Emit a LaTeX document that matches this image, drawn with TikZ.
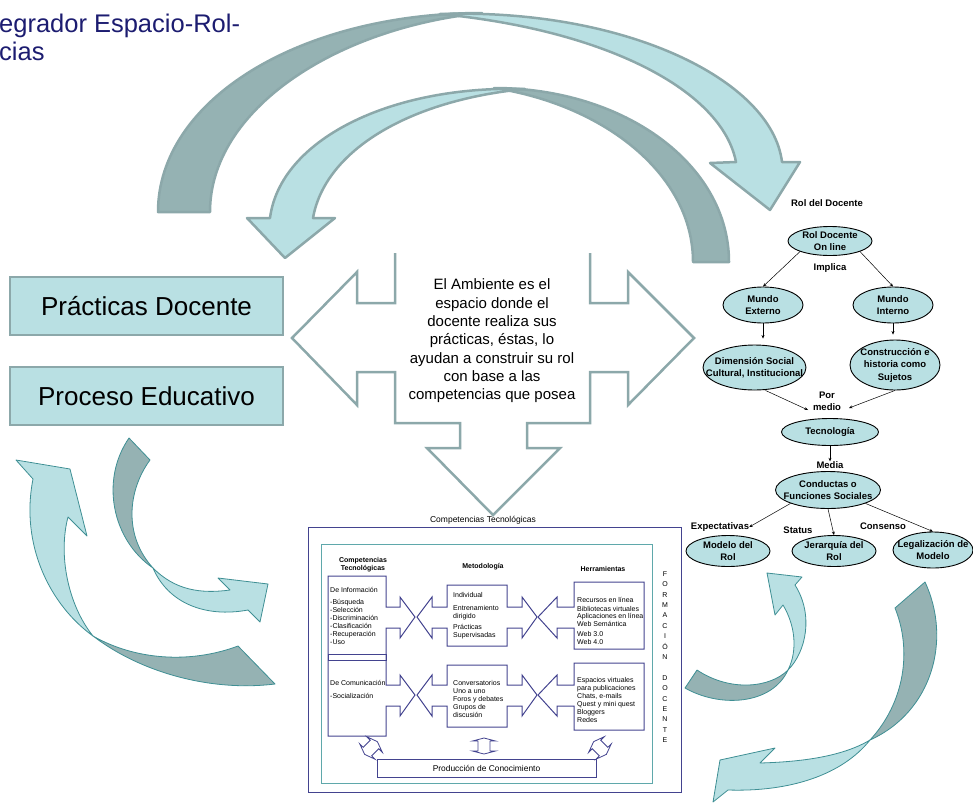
\documentclass[tikz,border=0pt]{standalone}
\usepackage{fontspec}
\setmainfont{Liberation Sans}
\usetikzlibrary{shapes.geometric,arrows.meta}
\definecolor{lt}{HTML}{B9E0E3}
\definecolor{dk}{HTML}{95B2B3}
\definecolor{edgegray}{HTML}{8CA8AA}
\definecolor{tealline}{HTML}{3F8F94}
\definecolor{navy}{HTML}{43438F}
\definecolor{titleblue}{HTML}{1C1C70}
\definecolor{innerteal}{HTML}{5FA8AB}
\begin{document}
\begin{tikzpicture}[x=1pt,y=-1pt,
  arcpart/.style={draw=edgegray,line width=2.5pt,line join=round},
  curvpart/.style={draw=tealline,line width=0.8pt,line join=round},
  bigbox/.style={draw=edgegray,line width=2.5pt,fill=lt,minimum width=273pt,minimum height=58pt,inner sep=0pt,font=\fontsize{26}{30}\selectfont},
  frame/.style={draw=navy,line width=1pt,line join=miter},
  smalltxt/.style={anchor=north west,inner sep=0pt,align=left,font=\fontsize{7}{8}\selectfont},
  colhead/.style={inner sep=0pt,align=center,font=\bfseries\fontsize{7}{8}\selectfont},
  ell/.style={ellipse,draw=black,line width=0.9pt,fill=lt,inner sep=0pt},
  elltxt/.style={inner sep=0pt,align=center,font=\bfseries\fontsize{9.5}{12.5}\selectfont},
  maplab/.style={inner sep=0pt,align=center,font=\bfseries\fontsize{9.5}{12.5}\selectfont},
  maparrow/.style={draw=black,line width=0.5pt,-{Stealth[length=3.5pt,width=3pt]}},
  dblarrow/.style={draw=navy,line width=0.8pt,line join=miter},
  titletxt/.style={anchor=base west,inner sep=0pt,text=titleblue,font=\fontsize{25.5}{30}\selectfont}
]
\useasboundingbox (0,0) rectangle (973,803);

% title
\node[titletxt] (t1) at (-1,32) {egrador\hspace{7pt}Espacio-Rol-};
\node[titletxt] (t2) at (-1,60) {cias};

% big outer arc arrow
\filldraw[arcpart,fill=dk] (158,212) .. controls (158,100) and (300,13) .. (482,13)
  .. controls (335,28) and (210,110) .. (210,212) -- cycle;
\filldraw[arcpart,fill=lt] (440,14) .. controls (625,8) and (772,80) .. (782,162)
  -- (800,162) -- (770,210) -- (710,163) -- (736,162)
  .. controls (722,90) and (605,30) .. (440,14) -- cycle;

% inner arc arrow
\filldraw[arcpart,fill=dk] (729,262) .. controls (729,165) and (625,88) .. (494,88)
  .. controls (605,105) and (693,175) .. (693,262) -- cycle;
\filldraw[arcpart,fill=lt] (525,89) .. controls (390,85) and (280,140) .. (270,218)
  -- (247,218) -- (285,258) -- (335,218) -- (313,218)
  .. controls (325,150) and (410,100) .. (525,89) -- cycle;

% left boxes
\node[bigbox] (prac) at (146.5,306) {Prácticas Docente};
\node[bigbox] (proc) at (146.5,396) {Proceso Educativo};

% central three-way arrow
\draw[edgegray,line width=2.5pt,line join=miter]
  (395,253) -- (395,303) -- (357,303) -- (357,272) -- (292,338) -- (357,405) -- (357,372)
  -- (395,372) -- (395,423) -- (460,423) -- (460,448) -- (427,448) -- (493,515)
  -- (560,448) -- (527,448) -- (527,423) -- (590,423) -- (590,372) -- (628,372)
  -- (628,405) -- (694,338) -- (628,272) -- (628,303) -- (590,303) -- (590,253);
\node[inner sep=0pt,align=center,font=\fontsize{15}{18.3}\selectfont] (amb) at (492,341)
  {El Ambiente es el\\espacio donde el\\docente realiza sus\\prácticas, éstas, lo\\ayudan a construir su rol\\con base a las\\competencias que posea};

% bottom-left curved arrows
\filldraw[curvpart,fill=dk] (93,636) .. controls (140,672) and (210,692) .. (275,684)
  -- (238,646) .. controls (190,664) and (135,660) .. (93,636) -- cycle;
\filldraw[curvpart,fill=lt] (33,479) -- (16,460) -- (70,469) -- (87,536) -- (68,517)
  .. controls (58,555) and (68,605) .. (93,636) .. controls (50,605) and (20,545) .. (33,479) -- cycle;
\filldraw[curvpart,fill=dk] (129,438) -- (150,460) .. controls (128,490) and (123,535) .. (153,568)
  .. controls (112,540) and (100,480) .. (129,438) -- cycle;
\filldraw[curvpart,fill=lt] (153,568) .. controls (175,590) and (200,594) .. (230,590)
  -- (218,578) -- (268,584) -- (260,622) -- (248,610)
  .. controls (205,618) and (168,603) .. (153,568) -- cycle;

% bottom-right curved arrows
\filldraw[curvpart,fill=dk] (788,670) .. controls (770,688) and (730,692) .. (697,670)
  -- (685,688) .. controls (720,708) and (772,705) .. (788,670) -- cycle;
\filldraw[curvpart,fill=lt] (795,585) -- (802,577) -- (767,573) -- (775,615) -- (783,605)
  .. controls (795,625) and (798,650) .. (788,670) .. controls (806,652) and (814,615) .. (795,585) -- cycle;
\filldraw[curvpart,fill=dk] (895,608) -- (925,582) .. controls (952,640) and (932,712) .. (870,740)
  .. controls (905,702) and (912,650) .. (895,608) -- cycle;
\filldraw[curvpart,fill=lt] (870,740) .. controls (840,758) and (795,762) .. (760,763)
  -- (775,748) -- (720,760) -- (713,802) -- (728,790)
  .. controls (790,792) and (842,775) .. (870,740) -- cycle;

% bottom centre figure
\node[inner sep=0pt,font=\fontsize{8.5}{10}\selectfont] (cap) at (483,520) {Competencias Tecnológicas};
\draw[frame] (308,527) rectangle (681,792);
\draw[innerteal,line width=0.9pt] (321,544) rectangle (652,783);
\node[colhead] (h1) at (363,565) {Competencias\\Tecnológicas};
\node[colhead] (h2) at (483,567) {Metodología};
\node[colhead] (h3) at (603,569) {Herramientas};

\draw[frame] (328,576) -- (386,576) -- (386,607) -- (400,607) -- (400,597) -- (415,617)
  -- (400,638) -- (400,628) -- (386,628) -- (386,685) -- (400,685) -- (400,675)
  -- (415,695) -- (400,716) -- (400,706) -- (386,706) -- (386,736) -- (328,736) -- cycle;
\draw[frame] (328,654) rectangle (386,660);

\draw[frame] (447,585) -- (507,585) -- (507,607) -- (522,607) -- (522,597) -- (537,617)
  -- (522,638) -- (522,628) -- (507,628) -- (507,646) -- (447,646) -- (447,628)
  -- (432,628) -- (432,638) -- (417,617) -- (432,597) -- (432,607) -- (447,607) -- cycle;
\draw[frame] (447,665) -- (507,665) -- (507,685) -- (522,685) -- (522,675) -- (537,695)
  -- (522,716) -- (522,706) -- (507,706) -- (507,727) -- (447,727) -- (447,706)
  -- (432,706) -- (432,716) -- (417,695) -- (432,675) -- (432,685) -- (447,685) -- cycle;

\draw[frame] (574,582) -- (644,582) -- (644,649) -- (574,649) -- (574,628) -- (557,628)
  -- (557,638) -- (538,617) -- (557,597) -- (557,607) -- (574,607) -- cycle;
\draw[frame] (574,663) -- (644,663) -- (644,730) -- (574,730) -- (574,706) -- (557,706)
  -- (557,716) -- (538,695) -- (557,675) -- (557,685) -- (574,685) -- cycle;

\node[smalltxt] (tinfo) at (330,587) {De Información\\[4pt]-Búsqueda\\-Selección\\-Discriminación\\-Clasificación\\-Recuperación\\-Uso};
\node[smalltxt] (tcom) at (330,680) {De Comunicación\\[5pt]-Socialización};
\node[smalltxt] (tmet1) at (453,592) {Individual\\[5pt]Entrenamiento\\dirigido\\[3pt]Prácticas\\Supervisadas};
\node[smalltxt] (tmet2) at (453,680) {Conversatorios\\Uno a uno\\Foros y debates\\Grupos de\\discusión};
\node[smalltxt] (ther1) at (577,597) {Recursos en línea\\[1pt]Bibliotecas virtuales\\[-1pt]Aplicaciones en línea\\Web Semántica\\[2pt]Web 3.0\\Web 4.0};
\node[smalltxt] (ther2) at (577,677) {Espacios virtuales\\para publicaciones\\Chats, e-mails\\Quest y mini quest\\Bloggers\\Redes};

\node[draw=navy,line width=1pt,minimum width=219pt,minimum height=18pt,inner sep=0pt,font=\fontsize{8.4}{10}\selectfont] (prod) at (486.5,768) {Producción de Conocimiento};

\draw[dblarrow,shift={(371,748)},rotate=-45] (0,-9) -- (11,-5) -- (6,-5) -- (6,5) -- (11,5) -- (0,9) -- (-11,5) -- (-6,5) -- (-6,-5) -- (-11,-5) -- cycle;
\draw[dblarrow,shift={(484,746)}] (0,-8) -- (11.5,-5) -- (6,-5) -- (6,5) -- (11.5,5) -- (0,8) -- (-11.5,5) -- (-6,5) -- (-6,-5) -- (-11.5,-5) -- cycle;
\draw[dblarrow,shift={(600,748)},rotate=45] (0,-9) -- (11,-5) -- (6,-5) -- (6,5) -- (11,5) -- (0,9) -- (-11,5) -- (-6,5) -- (-6,-5) -- (-11,-5) -- cycle;

\node[inner sep=0pt,align=center,font=\fontsize{7}{10.4}\selectfont] (form) at (665,657)
  {F\\O\\R\\M\\A\\C\\I\\Ó\\N\\[10.4pt]D\\O\\C\\E\\N\\T\\E};

% concept map
\node[maplab] (roltitle) at (827,203) {Rol del Docente};
\node[ell,minimum width=84pt,minimum height=29pt,label={[elltxt]center:{Rol Docente\\On line}}] (rol) at (830,241) {};
\node[maplab] (implica) at (830,268) {Implica};
\node[ell,minimum width=80pt,minimum height=36pt,label={[elltxt]center:{Mundo\\Externo}}] (mext) at (763,305) {};
\node[ell,minimum width=80pt,minimum height=36pt,label={[elltxt]center:{Mundo\\Interno}}] (mint) at (893,305) {};
\node[ell,minimum width=103pt,minimum height=45pt,label={[elltxt]center:{Dimensión Social\\Cultural, Institucional}}] (dim) at (754.5,367.5) {};
\node[ell,minimum width=90pt,minimum height=50pt,label={[elltxt]center:{Construcción e\\historia como\\Sujetos}}] (cons) at (895,365) {};
\node[maplab] (pm) at (827,401.5) {Por\\medio};
\node[ell,minimum width=97pt,minimum height=27pt,label={[elltxt]center:{Tecnología}}] (tec) at (830,432) {};
\node[maplab] (media) at (830,465) {Media};
\node[ell,minimum width=105pt,minimum height=37pt,label={[elltxt]center:{Conductas o\\Funciones Sociales}}] (cond) at (828,490) {};
\node[maplab] (expec) at (720,527) {Expectativas};
\node[maplab] (status) at (798,530) {Status};
\node[maplab] (consenso) at (883,526) {Consenso};
\node[ell,minimum width=84pt,minimum height=31pt,label={[elltxt]center:{Modelo del\\Rol}}] (mod) at (728,551) {};
\node[ell,minimum width=84pt,minimum height=31pt,label={[elltxt]center:{Jerarquía del\\Rol}}] (jer) at (834,551) {};
\node[ell,minimum width=80pt,minimum height=36pt,label={[elltxt]center:{Legalización de\\Modelo}}] (leg) at (933,550) {};

\coordinate (pmL) at (808,410);
\coordinate (pmR) at (849,408);
\draw[maparrow] (rol.south west) -- (mext.north);
\draw[maparrow] (rol.south east) -- (mint.north);
\draw[maparrow,shorten >=6pt] (mext.south) -- (mext.south |- dim.north);
\draw[maparrow,shorten >=5pt] (mint.south) -- (mint.south |- cons.north);
\draw[maparrow] ([xshift=11pt]dim.south) -- (pmL);
\draw[maparrow] (cons.south) -- (pmR);
\draw[maparrow] (tec.south) -- (media.north);
\draw[maparrow] (cond.south west) -- (expec.east);
\draw[maparrow] (cond.south) -- (jer.north);
\draw[maparrow] (cond.south east) -- (leg.north);
\end{tikzpicture}
\end{document}
